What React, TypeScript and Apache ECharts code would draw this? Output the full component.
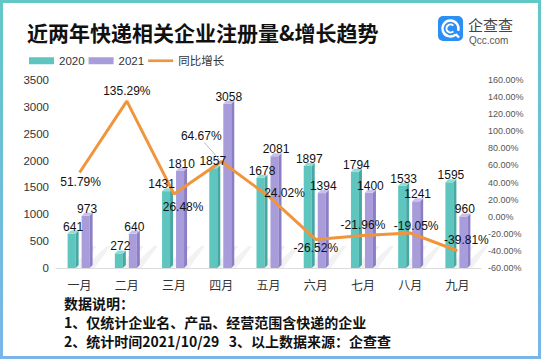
import React, { useEffect, useRef } from "react";
import * as echarts from "echarts";

const months = ["一月", "二月", "三月", "四月", "五月", "六月", "七月", "八月", "九月"];
const reg2020 = [641, 272, 1431, 1857, 1678, 1897, 1794, 1533, 1595];
const reg2021 = [973, 640, 1810, 3058, 2081, 1394, 1400, 1241, 960];
const growth = [51.79, 135.29, 26.48, 64.67, 24.02, -26.52, -21.96, -19.05, -39.81];
const seriesNames = ["2020", "2021", "同比增长"];
const titleText = "近两年快递相关企业注册量&增长趋势";
const notes = [
  "数据说明：",
  "1、仅统计企业名、产品、经营范围含快递的企业",
  "2、统计时间2021/10/29   3、以上数据来源：企查查",
];

// label placement (style config): offset of each growth label centre from its point
const pctLabelOffset: number[][] = [
  [1, 10], [0, -10], [9, 13], [-20, -25], [16, -3], [0, 9], [0, -10], [6, -7], [9, -11],
];
// horizontal nudge of the 2020 value labels (style config)
const label2020Dx = [0, 0, -6, -2, 0, 0, 0, 0, 0];

const FONT = '"Liberation Sans", "Noto Sans CJK SC", sans-serif';
const CJK = '"Noto Sans CJK SC", "Liberation Sans", sans-serif';

const TEAL = { front: "#5EC5BF", side: "#47A7A2", top: "#93DBD6" };
const PURPLE = { front: "#A99CDB", side: "#8B7EC4", top: "#C8BFEE" };
const BAR_W = 8;
const BAR_D = 3;

function bar3D(offset: number, col: { front: string; side: string; top: string }) {
  const w = BAR_W;
  const d = BAR_D;
  return (params: any, api: any) => {
    const idx = api.value(0);
    const val = api.value(1);
    const top = api.coord([idx, val]);
    const base = api.coord([idx, 0]);
    const x0 = top[0] + offset;
    const ty = top[1];
    const by = base[1];
    return {
      type: "group",
      children: [
        {
          type: "polygon",
          shape: { points: [[x0 + 2, by], [x0 + w + d + 14, by - 22], [x0 + w + d + 18, by - 22], [x0 + w + d + 2, by]] },
          style: { fill: "rgba(0,0,0,0.05)" },
          silent: true,
        },
        {
          type: "polygon",
          shape: { points: [[x0, ty], [x0 + w, ty], [x0 + w, by], [x0, by]] },
          style: { fill: col.front },
        },
        {
          type: "polygon",
          shape: { points: [[x0 + w, ty], [x0 + w + d, ty - d], [x0 + w + d, by - d], [x0 + w, by]] },
          style: { fill: col.side },
        },
        {
          type: "polygon",
          shape: { points: [[x0, ty], [x0 + d, ty - d], [x0 + w + d, ty - d], [x0 + w, ty]] },
          style: { fill: col.top },
        },
      ],
    };
  };
}

function barLabels(offset: number, dxs: number[] | null) {
  return (params: any, api: any) => {
    const idx = api.value(0);
    const val = api.value(1);
    const top = api.coord([idx, val]);
    const dx = dxs ? dxs[idx] || 0 : 0;
    return {
      type: "text",
      x: top[0] + offset + (BAR_W + BAR_D) / 2 + dx,
      y: top[1] - 1,
      style: {
        text: String(val),
        textAlign: "center",
        textVerticalAlign: "bottom",
        fill: "#111",
        font: `12px ${FONT}`,
      },
    };
  };
}

function pctLabels(params: any, api: any) {
  const idx = api.value(0);
  const val = api.value(1);
  const p = api.coord([idx, val]);
  const off = pctLabelOffset[idx] || [0, -10];
  const lx = p[0] + off[0];
  const ly = p[1] + off[1];
  const children: any[] = [
    {
      type: "text",
      x: lx,
      y: ly,
      style: {
        text: val.toFixed(2) + "%",
        textAlign: "center",
        textVerticalAlign: "middle",
        fill: "#111",
        font: `12px ${FONT}`,
      },
    },
  ];
  if (idx === 3) {
    children.push({
      type: "line",
      shape: { x1: lx + 3, y1: ly + 6, x2: p[0] - 2, y2: p[1] - 2 },
      style: { stroke: "#a8a8a8", lineWidth: 0.8 },
    });
  }
  return { type: "group", children };
}

export default function App() {
  const ref = useRef<HTMLDivElement>(null);
  useEffect(() => {
    if (!ref.current) return;
    const chart = echarts.init(ref.current, undefined, { renderer: "svg" });
    chart.setOption({
      animation: false,
      backgroundColor: "#ffffff",
      title: {
        text: titleText,
        left: 22,
        top: 16,
        textStyle: { fontSize: 21, fontWeight: "bold", color: "#111", fontFamily: CJK },
      },
      legend: {
        left: 24,
        top: 50,
        itemWidth: 25,
        itemHeight: 7,
        itemGap: 4,
        textStyle: { fontSize: 11.5, color: "#333", fontFamily: FONT },
        data: [
          { name: seriesNames[0], icon: "rect" },
          { name: seriesNames[1], icon: "rect" },
          { name: seriesNames[2], icon: "path://M0,0 L28,0 L28,3 L0,3 Z" },
        ],
      },
      grid: { left: 56, right: 60, top: 80, bottom: 91 },
      xAxis: {
        type: "category",
        data: months,
        axisLine: { show: true, lineStyle: { color: "#dcdcdc" } },
        axisTick: { show: false },
        axisLabel: { fontSize: 12, color: "#333", fontFamily: CJK, margin: 10 },
      },
      yAxis: [
        {
          type: "value",
          min: 0,
          max: 3500,
          interval: 500,
          splitLine: { show: false },
          axisLine: { show: false },
          axisTick: { show: false },
          axisLabel: {
            fontSize: 11.5,
            color: "#333",
            fontFamily: FONT,
            margin: 7,
            formatter: (v: number) => String(v),
          },
        },
        {
          type: "value",
          min: -60,
          max: 160,
          interval: 20,
          splitLine: { show: false },
          axisLine: { show: false },
          axisTick: { show: false },
          axisLabel: {
            fontSize: 9,
            color: "#555",
            fontFamily: FONT,
            margin: 7,
            formatter: (v: number) => v.toFixed(2) + "%",
          },
        },
      ],
      series: [
        {
          name: seriesNames[0],
          type: "custom",
          itemStyle: { color: TEAL.front },
          renderItem: bar3D(-12, TEAL),
          data: reg2020.map((v, i) => [i, v]),
          z: 2,
        },
        {
          name: seriesNames[1],
          type: "custom",
          itemStyle: { color: PURPLE.front },
          renderItem: bar3D(2, PURPLE),
          data: reg2021.map((v, i) => [i, v]),
          z: 2,
        },
        {
          name: seriesNames[2],
          type: "line",
          yAxisIndex: 1,
          data: growth,
          symbol: "none",
          lineStyle: { color: "#F0953C", width: 3 },
          itemStyle: { color: "#F0953C" },
          z: 3,
        },
        {
          name: "labels2020",
          type: "custom",
          renderItem: barLabels(-12, label2020Dx),
          data: reg2020.map((v, i) => [i, v]),
          z: 5,
          silent: true,
        },
        {
          name: "labels2021",
          type: "custom",
          renderItem: barLabels(2, null),
          data: reg2021.map((v, i) => [i, v]),
          z: 5,
          silent: true,
        },
        {
          name: "growthLabels",
          type: "custom",
          yAxisIndex: 1,
          renderItem: pctLabels,
          data: growth.map((v, i) => [i, v]),
          z: 6,
          silent: true,
        },
      ],
      graphic: [
        {
          type: "rect",
          shape: { x: 1.5, y: 1.5, width: 538, height: 356 },
          style: {
            fill: "none",
            lineWidth: 3,
            stroke: new echarts.graphic.LinearGradient(0, 0, 0, 1, [
              { offset: 0, color: "#62C8C6" },
              { offset: 1, color: "#7AB5EA" },
            ]),
          },
          z: 100,
        },
        {
          type: "rect",
          shape: { x: 438, y: 16, width: 25, height: 25, r: 5 },
          style: { fill: "#2C8FF5" },
        },
        {
          type: "arc",
          shape: { cx: 450.5, cy: 28.5, r: 8, startAngle: 0.9, endAngle: Math.PI * 2 + 0.3 },
          style: { stroke: "#ffffff", lineWidth: 2.4, fill: "none" },
        },
        {
          type: "arc",
          shape: { cx: 450.5, cy: 28.5, r: 4, startAngle: 0.8, endAngle: Math.PI * 2 - 0.8 },
          style: { stroke: "#ffffff", lineWidth: 2, fill: "none" },
        },
        {
          type: "line",
          shape: { x1: 455.5, y1: 34, x2: 459, y2: 37.5 },
          style: { stroke: "#ffffff", lineWidth: 2.4 },
        },
        {
          type: "text",
          x: 468,
          y: 24,
          style: { text: "企查查", font: `15px ${CJK}`, fill: "#444", textVerticalAlign: "middle" },
        },
        {
          type: "text",
          x: 469,
          y: 40,
          style: { text: "Qcc.com", font: `10px ${FONT}`, fill: "#555", textVerticalAlign: "middle" },
        },
        ...notes.map((t, i) => ({
          type: "text",
          x: 64,
          y: 303 + i * 19,
          style: {
            text: t,
            font: `bold 14px ${CJK}`,
            fill: "#111",
            textVerticalAlign: "middle",
          },
        })),
      ],
    });
    return () => chart.dispose();
  }, []);
  return (
    <div
      ref={ref}
      style={{ position: "absolute", left: 0, top: 0, width: 541, height: 359 }}
    />
  );
}
